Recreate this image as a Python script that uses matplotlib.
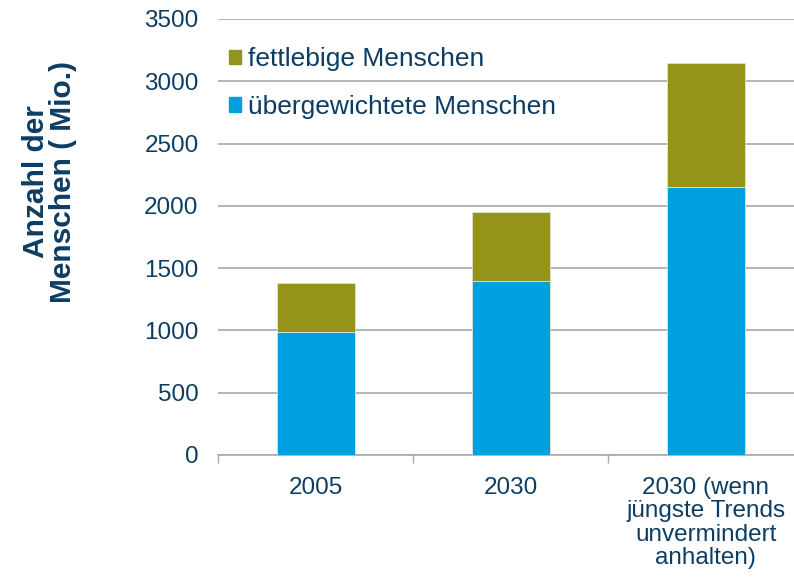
import matplotlib.pyplot as plt
from matplotlib.patches import Patch

plt.rcParams['font.family'] = ['Liberation Sans', 'DejaVu Sans']

categories = ["2005", "2030", "2030 (wenn\njüngste Trends\nunvermindert\nanhalten)"]
uebergewichtig = [985, 1400, 2150]
fettleibig = [395, 550, 1000]
series_names = ["übergewichtete Menschen", "fettlebige Menschen"]

blue = "#009fe0"
olive = "#939419"
text_col = "#0d3d63"
grid_col = "#a3a9b3"

fig = plt.figure(figsize=(7.94, 5.79), dpi=100)
ax = fig.add_axes([0.2746, 0.2142, 0.737, 0.753])

x = range(len(categories))
ax.bar(x, uebergewichtig, width=0.4, color=blue, edgecolor="#e0e6d0", linewidth=0.6, zorder=3)
ax.bar(x, fettleibig, bottom=uebergewichtig, width=0.4, color=olive,
       edgecolor="#e0e6d0", linewidth=0.6, zorder=3)

ax.set_ylim(0, 3500)
ax.set_xlim(-0.5, 2.5)
ax.set_yticks(range(0, 3501, 500))
ax.yaxis.grid(True, color=grid_col, linewidth=1.2, zorder=0)
ax.tick_params(axis='y', length=0, labelsize=17.5, labelcolor=text_col, pad=14)

ax.set_xticks(list(x))
ax.set_xticklabels(categories, fontsize=17.5, color=text_col, linespacing=1.07)
ax.set_xticks([-0.5, 0.5, 1.5, 2.5], minor=True)
ax.tick_params(axis='x', which='major', length=0, pad=16)
ax.tick_params(axis='x', which='minor', length=6, color=grid_col, width=1)

for s in ['top', 'right', 'left']:
    ax.spines[s].set_visible(False)
ax.spines['bottom'].set_color(grid_col)
ax.spines['bottom'].set_linewidth(1.2)

ax.set_ylabel("Anzahl der\nMenschen ( Mio.)", fontsize=21.5, fontweight='bold',
              color=text_col, linespacing=0.95)
ax.yaxis.set_label_coords(-0.241, 0.626)

handles = [Patch(color=olive), Patch(color=blue)]
leg = ax.legend(handles, [series_names[1], series_names[0]], loc='upper left',
                bbox_to_anchor=(-0.022, 0.99), frameon=False, fontsize=19,
                handlelength=0.45, handleheight=0.45, handletextpad=0.27,
                labelspacing=0.9)
for t in leg.get_texts():
    t.set_color(text_col)

fig.savefig("out.png", dpi=100)
